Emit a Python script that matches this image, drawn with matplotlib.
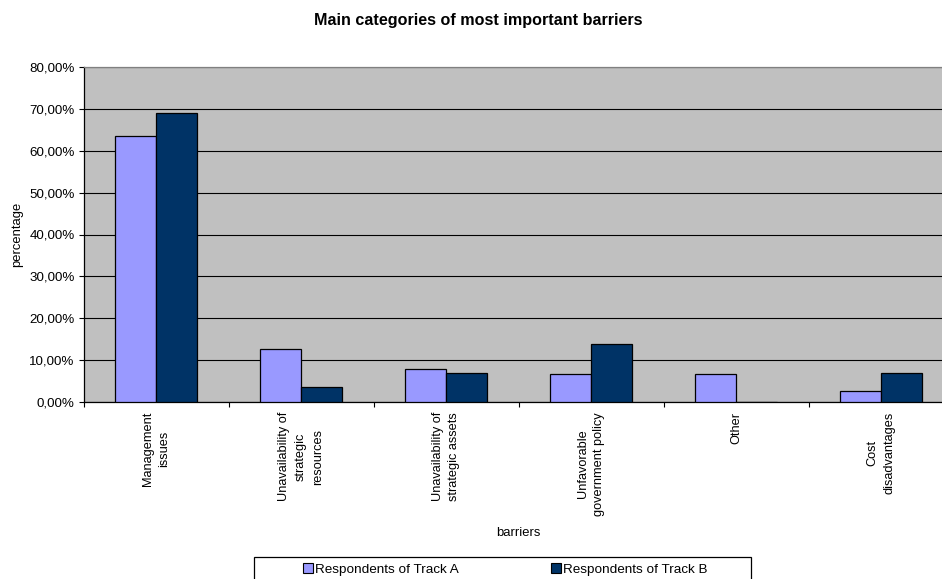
import matplotlib
matplotlib.use("Agg")
import matplotlib.pyplot as plt
from matplotlib.patches import Rectangle
from matplotlib.lines import Line2D
from matplotlib.ticker import FuncFormatter, FixedLocator
import numpy as np

plt.rcParams['font.family'] = ['Liberation Sans', 'DejaVu Sans']

categories = [
    "Management\nissues",
    "Unavailability of\nstrategic\nresources",
    "Unavailability of\nstrategic assets",
    "Unfavorable\ngovernment policy",
    "Other",
    "Cost\ndisadvantages",
]
track_a = [63.5, 12.5, 7.9, 6.6, 6.6, 2.6]
track_b = [69.0, 3.4, 6.9, 13.8, 0.0, 6.9]
series_names = ["Respondents of Track A", "Respondents of Track B"]
colors = ["#9999FF", "#003366"]

W, H = 942, 579
fig = plt.figure(figsize=(W / 100, H / 100), dpi=100)

# plot area in pixel coordinates (left, top, right, bottom)
L, T, R, B = 83.5, 67.3, 953.5, 401.7
ax = fig.add_axes([L / W, 1 - B / H, (R - L) / W, (B - T) / H])
ax.set_facecolor("#C0C0C0")

x = np.arange(len(categories))
w = 1 / 3.5
ax.bar(x - w / 2, track_a, w, color=colors[0], edgecolor="black", linewidth=0.9, zorder=3)
ax.bar(x + w / 2, track_b, w, color=colors[1], edgecolor="black", linewidth=0.9, zorder=3)

ax.set_xlim(-0.5, len(categories) - 0.5)
ax.set_ylim(0, 80)
ax.set_yticks(np.arange(0, 81, 10))
ax.yaxis.set_major_formatter(FuncFormatter(lambda v, p: f"{v:.2f}".replace(".", ",") + "%"))
ax.yaxis.grid(True, color="black", linewidth=0.8, zorder=1)
ax.set_axisbelow(True)

ax.set_xticks(x)
ax.set_xticklabels(categories, rotation=90, ha="center", va="top",
                   multialignment="center", linespacing=1.55, fontsize=9.2)
ax.xaxis.set_minor_locator(FixedLocator(np.arange(-0.5, len(categories), 1.0)))
ax.tick_params(axis="x", which="major", length=0, pad=7.5)
ax.tick_params(axis="x", which="minor", length=3.5, width=0.8, color="black")
ax.tick_params(axis="y", length=3.5, width=0.8, labelsize=9.6, pad=3)

for side in ("top", "right"):
    ax.spines[side].set_color("#808080")
for side in ("left", "bottom"):
    ax.spines[side].set_color("black")
for sp in ax.spines.values():
    sp.set_linewidth(0.9)

ax.set_ylabel("percentage", fontsize=9.4, labelpad=4)
ax.set_xlabel("barriers", fontsize=9.4)
ax.xaxis.set_label_coords(0.5, -(533 - B) / (B - T), transform=ax.transAxes)
ax.xaxis.label.set_va("center")

fig.text(478 / W, 1 - 20 / H, "Main categories of most important barriers",
         ha="center", va="center", fontsize=11.6, fontweight="bold")

# legend box and entries
fig.patches.append(Rectangle((254 / W, 1 - 590 / H), (751 - 254) / W, (590 - 557) / H,
                             transform=fig.transFigure, facecolor="white",
                             edgecolor="black", linewidth=0.9))
handles = [Line2D([], [], linestyle="none", marker="s", markersize=7,
                  markerfacecolor=c, markeredgecolor="black", markeredgewidth=0.8)
           for c in colors]
fig.legend(handles, series_names, loc="center", ncol=2, frameon=False,
           bbox_to_anchor=(505 / W, 1 - 570 / H), fontsize=9.7,
           handlelength=0.8, handletextpad=0.1, columnspacing=6.8)

fig.savefig("out.png", dpi=100)
